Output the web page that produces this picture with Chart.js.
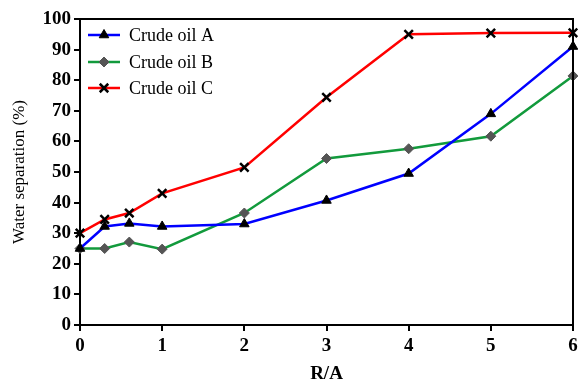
<!DOCTYPE html>
<html>
<head>
<meta charset="utf-8">
<script src="https://cdn.jsdelivr.net/npm/chart.js@4.4.0/dist/chart.umd.min.js"></script>
<style>
  html, body { margin: 0; padding: 0; background: #fff; }
  #wrap { width: 578px; height: 389px; }
</style>
</head>
<body>
<div id="wrap"><canvas id="sepChart" width="578" height="389"></canvas></div>
<script>
// R/A ratios on the x axis
const ratios = [0, 0.3, 0.6, 1, 2, 3, 4, 5, 6];
// Water separation (%) for each crude oil
const oilA = [25, 32.2, 33.2, 32.2, 33, 40.7, 49.5, 69, 91];
const oilB = [25, 25, 27.1, 24.8, 36.6, 54.4, 57.6, 61.7, 81.4];
const oilC = [30, 34.5, 36.6, 43, 51.5, 74.4, 95, 95.4, 95.5];
const seriesNames = ['Crude oil A', 'Crude oil B', 'Crude oil C'];
const xTicks = [0, 1, 2, 3, 4, 5, 6];
const yTicks = [0, 10, 20, 30, 40, 50, 60, 70, 80, 90, 100];

const serif = "'Liberation Serif', 'Times New Roman', serif";

function toPoints(values) {
    return values.map((v, i) => ({ x: ratios[i], y: v }));
}

// frame around the plot area + in-plot legend
const framePlugin = {
    id: 'frame',
    afterDraw(chart) {
        const ctx = chart.ctx;
        const a = chart.chartArea;
        ctx.save();
        ctx.strokeStyle = '#000';
        ctx.lineWidth = 2;
        ctx.beginPath();
        ctx.moveTo(a.left, a.top);
        ctx.lineTo(a.right, a.top);
        ctx.lineTo(a.right, a.bottom);
        ctx.stroke();

        // legend
        const rows = [35, 62, 88];
        chart.data.datasets.forEach((ds, i) => {
            const y = rows[i];
            ctx.strokeStyle = ds.borderColor;
            ctx.lineWidth = 2.5;
            ctx.beginPath();
            ctx.moveTo(88, y);
            ctx.lineTo(120, y);
            ctx.stroke();
            ctx.fillStyle = ds.pointBackgroundColor;
            ctx.strokeStyle = ds.pointBorderColor;
            ctx.lineWidth = ds.pointBorderWidth;
            Chart.helpers.drawPoint(ctx, {
                pointStyle: ds.pointStyle,
                radius: ds.pointRadius,
                borderWidth: ds.pointBorderWidth
            }, 104, y);
            ctx.fillStyle = '#000';
            ctx.font = '18px ' + serif;
            ctx.textBaseline = 'middle';
            ctx.textAlign = 'left';
            ctx.fillText(ds.label, 129, y + 1);
        });
        ctx.restore();
    }
};

function makeSet(label, values, color, style, markerColor, radius) {
    return {
        label: label,
        data: toPoints(values),
        borderColor: color,
        backgroundColor: markerColor,
        borderWidth: 2.5,
        pointStyle: style,
        pointRadius: radius,
        pointHoverRadius: radius,
        pointBackgroundColor: markerColor,
        pointBorderColor: markerColor,
        pointBorderWidth: style === 'crossRot' ? 2.5 : 1,
        tension: 0
    };
}

new Chart(document.getElementById('sepChart').getContext('2d'), {
    type: 'line',
    data: {
        datasets: [
            makeSet(seriesNames[0], oilA, '#0000ff', 'triangle', '#000', 5.5),
            makeSet(seriesNames[1], oilB, '#129a3c', 'rectRot', '#555', 5),
            makeSet(seriesNames[2], oilC, '#ff0000', 'crossRot', '#000', 6)
        ]
    },
    options: {
        responsive: false,
        animation: false,
        clip: false,
        layout: { autoPadding: false, padding: { top: 19, right: 5, left: 0, bottom: 0 } },
        plugins: {
            legend: { display: false },
            tooltip: { enabled: false }
        },
        scales: {
            x: {
                type: 'linear',
                min: 0,
                max: 6,
                afterBuildTicks: s => { s.ticks = xTicks.map(v => ({ value: v })); },
                afterFit: s => { s.height = 64; s.paddingRight = 0; },
                border: { color: '#000', width: 2 },
                grid: { display: true, drawOnChartArea: false, drawTicks: true, tickLength: 6, color: '#000', lineWidth: 2 },
                ticks: { color: '#000', padding: 4, maxRotation: 0, font: { family: serif, size: 19, weight: 'bold' } },
                title: { display: true, text: 'R/A', color: '#000', padding: { top: 14 }, font: { family: serif, size: 19, weight: 'bold' } }
            },
            y: {
                min: 0,
                max: 100,
                afterBuildTicks: s => { s.ticks = yTicks.map(v => ({ value: v })); },
                afterFit: s => { s.width = 80; },
                border: { color: '#000', width: 2 },
                grid: { display: true, drawOnChartArea: false, drawTicks: true, tickLength: 6, color: '#000', lineWidth: 2 },
                ticks: { color: '#000', padding: 3, font: { family: serif, size: 19, weight: 'bold' } },
                title: { display: true, text: 'Water separation (%)', color: '#000', padding: { top: 9, bottom: 0 }, font: { family: serif, size: 17 } }
            }
        }
    },
    plugins: [framePlugin]
});
</script>
</body>
</html>
